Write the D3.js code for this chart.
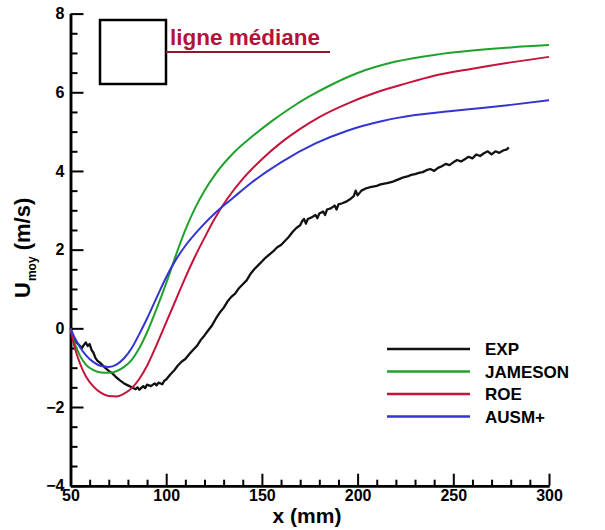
<!DOCTYPE html>
<html>
<head>
<meta charset="utf-8">
<script src="https://cdn.jsdelivr.net/npm/d3@7"></script>
<style>
  body { margin: 0; background: #fff; }
  svg text { font-family: "Liberation Sans", Arial, Helvetica, sans-serif; font-weight: bold; }
</style>
</head>
<body>
<div id="chart"></div>
<script>
// U_moy along the median line: experiment vs three schemes
const width = 605, height = 530;

const xTicks = [50, 100, 150, 200, 250, 300];
const yTicks = [-4, -2, 0, 2, 4, 6, 8];
const seriesNames = ["EXP", "JAMESON", "ROE", "AUSM+"];
const seriesColors = ["#111111", "#1fa12c", "#c4143c", "#3434d0"];

// [x (mm), U (m/s)]
const expData = [
  [50.5, -0.1], [52, -0.3], [54, -0.4], [56, -0.5], [57, -0.42], [58, -0.36], [59, -0.45], [60, -0.4],
  [61, -0.55], [62, -0.62], [63, -0.75], [64, -0.82], [66, -0.9], [68, -1.0], [70, -1.08], [72, -1.15],
  [74, -1.25], [76, -1.33], [78, -1.4], [80, -1.45], [82, -1.5], [84, -1.55], [85, -1.5], [86, -1.56],
  [88, -1.47], [89, -1.52], [90, -1.43], [92, -1.47], [94, -1.4], [95, -1.45], [96, -1.38], [98, -1.42],
  [99, -1.33], [100, -1.3], [102, -1.18], [104, -1.08], [106, -0.95], [108, -0.85], [110, -0.78],
  [112, -0.66], [114, -0.55], [116, -0.45], [118, -0.3], [120, -0.18], [122, -0.05], [124, 0.08],
  [126, 0.25], [128, 0.4], [130, 0.52], [132, 0.68], [134, 0.8], [136, 0.88], [138, 1.02], [140, 1.12],
  [142, 1.22], [144, 1.38], [146, 1.5], [148, 1.6], [150, 1.7], [152, 1.8], [154, 1.88], [156, 1.96],
  [158, 2.06], [160, 2.12], [162, 2.22], [164, 2.32], [166, 2.45], [168, 2.55], [170, 2.62], [171, 2.72],
  [172, 2.78], [173, 2.66], [174, 2.78], [176, 2.82], [178, 2.88], [179, 2.8], [180, 2.92], [182, 2.97],
  [183, 2.88], [184, 3.02], [186, 3.05], [188, 3.12], [189, 3.02], [190, 3.15], [192, 3.18], [194, 3.22],
  [196, 3.28], [198, 3.36], [199, 3.5], [200, 3.38], [202, 3.5], [204, 3.55], [206, 3.58], [208, 3.6],
  [210, 3.62], [212, 3.66], [214, 3.68], [216, 3.7], [218, 3.72], [220, 3.76], [222, 3.8], [224, 3.84],
  [226, 3.86], [228, 3.9], [230, 3.92], [232, 3.95], [234, 3.97], [236, 4.02], [238, 4.05], [240, 4.0],
  [242, 4.08], [244, 4.12], [246, 4.18], [248, 4.15], [250, 4.22], [252, 4.28], [254, 4.24], [256, 4.3],
  [258, 4.36], [260, 4.32], [262, 4.42], [264, 4.38], [266, 4.45], [268, 4.5], [270, 4.42], [272, 4.5],
  [274, 4.46], [276, 4.52], [278, 4.55], [279, 4.6]
];
const jamesonData = [
  [50, 0], [52, -0.35], [55, -0.7], [58, -0.92], [62, -1.06], [66, -1.12], [70, -1.13], [74, -1.09],
  [78, -0.98], [82, -0.8], [86, -0.5], [90, -0.1], [95, 0.5], [100, 1.15], [105, 1.85], [110, 2.5],
  [115, 3.05], [120, 3.5], [126, 3.94], [135, 4.45], [145, 4.88], [155, 5.26], [165, 5.6], [175, 5.9],
  [185, 6.16], [200, 6.49], [220, 6.78], [240, 6.95], [260, 7.06], [280, 7.14], [300, 7.2]
];
const roeData = [
  [50, 0], [52, -0.45], [55, -0.9], [58, -1.22], [62, -1.48], [66, -1.64], [70, -1.72], [74, -1.73],
  [78, -1.66], [82, -1.52], [86, -1.28], [90, -0.95], [95, -0.42], [100, 0.15], [105, 0.72], [110, 1.29],
  [115, 1.82], [120, 2.3], [125, 2.76], [132, 3.3], [140, 3.8], [150, 4.3], [160, 4.72], [170, 5.07],
  [180, 5.37], [195, 5.72], [210, 6.0], [225, 6.22], [240, 6.42], [260, 6.6], [280, 6.76], [300, 6.9]
];
const ausmData = [
  [50, 0], [52, -0.22], [55, -0.48], [58, -0.68], [62, -0.86], [66, -0.96], [70, -0.98], [74, -0.92],
  [78, -0.76], [82, -0.5], [86, -0.14], [90, 0.25], [95, 0.78], [100, 1.3], [105, 1.74], [110, 2.1],
  [118, 2.56], [126, 2.95], [135, 3.32], [145, 3.72], [160, 4.22], [178, 4.7], [195, 5.03], [213, 5.27],
  [230, 5.42], [248, 5.52], [265, 5.6], [280, 5.68], [300, 5.8]
];
const allSeries = [expData, jamesonData, roeData, ausmData];

const svg = d3.select("#chart").append("svg")
  .attr("width", width).attr("height", height);

const x = d3.scaleLinear().domain([50, 300]).range([70.5, 549]);
const y = d3.scaleLinear().domain([-4, 8]).range([485.7, 13.6]);

// axes: ticks point inwards, minor ticks without labels
const xAxis = svg.append("g").attr("transform", `translate(0,${y(-4)})`);
xAxis.call(d3.axisBottom(x).tickValues(d3.range(60, 300, 10).filter(v => v % 50)).tickSize(-6).tickSizeOuter(0).tickFormat(""));
xAxis.append("g").call(d3.axisBottom(x).tickValues(xTicks).tickSize(-12).tickSizeOuter(0).tickPadding(4));
const yAxis = svg.append("g").attr("transform", `translate(${x(50)},0)`);
yAxis.call(d3.axisLeft(y).tickValues(d3.range(-3.5, 8, 0.5).filter(v => v % 2)).tickSize(-7).tickSizeOuter(0).tickFormat(""));
yAxis.append("g").call(d3.axisLeft(y).tickValues(yTicks).tickSize(-13).tickSizeOuter(0).tickPadding(6));

svg.selectAll(".domain").attr("stroke", "#000").attr("stroke-width", 2.5);
svg.selectAll(".tick line").attr("stroke", "#000").attr("stroke-width", 2);
svg.selectAll(".tick text").attr("font-size", 16).attr("fill", "#000");

// axis titles
svg.append("text").attr("x", 307).attr("y", 523).attr("text-anchor", "middle")
  .attr("font-size", 21).text("x (mm)");
const yTitle = svg.append("text").attr("transform", "translate(30,298) rotate(-90)")
  .attr("font-size", 22);
yTitle.append("tspan").text("U");
yTitle.append("tspan").attr("font-size", 12).attr("dx", 1).attr("dy", 6).text("moy");
yTitle.append("tspan").attr("dy", -6).text(" (m/s)");

// curves
const line = d3.line().x(d => x(d[0])).y(d => y(d[1]));
allSeries.forEach((data, i) => {
  svg.append("path").datum(data)
    .attr("fill", "none")
    .attr("stroke", seriesColors[i])
    .attr("stroke-width", i === 0 ? 2.3 : 2)
    .attr("stroke-linejoin", "round")
    .attr("d", line.curve(i === 0 ? d3.curveLinear : d3.curveMonotoneX)(data));
});

// legend
const legend = svg.append("g").attr("transform", "translate(387,349)");
seriesNames.forEach((name, i) => {
  legend.append("line").attr("x1", 0).attr("x2", 83)
    .attr("y1", i * 22.5).attr("y2", i * 22.5)
    .attr("stroke", seriesColors[i]).attr("stroke-width", 2.5);
  legend.append("text").attr("x", 98).attr("y", i * 22.5).attr("dy", "0.36em")
    .attr("font-size", 17).text(name);
});

// "ligne médiane" box in the top-left corner
svg.append("rect").attr("x", 100).attr("y", 20).attr("width", 66).attr("height", 64)
  .attr("fill", "none").attr("stroke", "#000").attr("stroke-width", 2.5);
svg.append("text").attr("x", 170).attr("y", 45).attr("font-size", 22.5)
  .attr("fill", "#b5123a").text("ligne médiane");
svg.append("line").attr("x1", 166).attr("x2", 330).attr("y1", 52).attr("y2", 52)
  .attr("stroke", "#8a1a2c").attr("stroke-width", 2);
</script>
</body>
</html>
